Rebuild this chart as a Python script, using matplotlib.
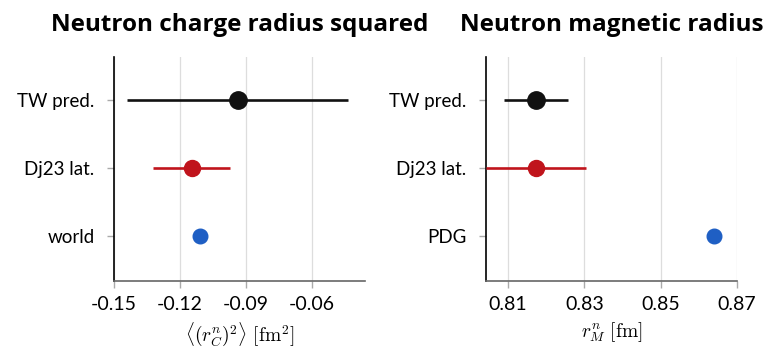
import matplotlib
matplotlib.use("Agg")
import matplotlib.pyplot as plt

plt.rcParams['font.family'] = ['Lato', 'DejaVu Sans']
plt.rcParams['mathtext.fontset'] = 'cm'

labels_charge = ["TW pred.", "Dj23 lat.", "world"]
values_charge = [-0.0939, -0.1148, -0.1108]
errors_charge = [0.0502, 0.0174, 0.0]

labels_mag = ["TW pred.", "Dj23 lat.", "PDG"]
values_mag = [0.8173, 0.8173, 0.8641]
errors_mag = [0.0083, 0.0131, 0.0]

colors = ["#111111", "#c0141c", "#1f5fc4"]
msizes = [12.5, 11.5, 10.5]

ticks_charge = [-0.15, -0.12, -0.09, -0.06]
ticks_mag = [0.81, 0.83, 0.85, 0.87]

fig = plt.figure(figsize=(7.65, 3.5), dpi=100)
ax1 = fig.add_axes([114/765, 1-281/350, 251/765, 224/350])
ax2 = fig.add_axes([486/765, 1-281/350, 251/765, 224/350])

def draw(ax, labels, vals, errs, ticks, xlim, title, xlabel):
    for i, (v, e) in enumerate(zip(vals, errs)):
        ax.errorbar([v], [i], xerr=[e] if e > 0 else None, fmt='o', color=colors[i],
                    ms=msizes[i], lw=1.9, capsize=0, zorder=3)
    ax.set_ylim(2.66, -0.64)
    ax.set_yticks(range(len(labels)))
    ax.set_yticklabels(labels, fontsize=13.5)
    ax.set_xticks(ticks)
    ax.set_xticklabels([f"{t:.2f}" for t in ticks], fontsize=14)
    ax.set_xlim(*xlim)
    ax.grid(axis='x', color='#dddddd', lw=0.9, zorder=0)
    ax.set_axisbelow(True)
    for s in ['top', 'right']:
        ax.spines[s].set_visible(False)
    ax.spines['left'].set_color('black')
    ax.spines['left'].set_linewidth(1.2)
    ax.spines['bottom'].set_color('#666666')
    ax.spines['bottom'].set_linewidth(1.2)
    ax.tick_params(axis='both', colors='#aaaaaa', labelcolor='black', length=5, width=1)
    ax.tick_params(axis='y', pad=9)
    ax.tick_params(axis='x', pad=6)
    ax.set_title(title, fontsize=17.5, fontweight='bold', pad=19,
                 family=['Open Sans', 'DejaVu Sans'])
    ax.set_xlabel(xlabel, fontsize=14, labelpad=5)

draw(ax1, labels_charge, values_charge, errors_charge, ticks_charge, (-0.15, -0.036),
     "Neutron charge radius squared", r"$\langle (r_C^n)^2\rangle\ [\mathrm{fm}^2]$")
draw(ax2, labels_mag, values_mag, errors_mag, ticks_mag, (0.8042, 0.87),
     "Neutron magnetic radius", r"$r_M^n\ [\mathrm{fm}]$")

fig.savefig("out.png", dpi=100)
